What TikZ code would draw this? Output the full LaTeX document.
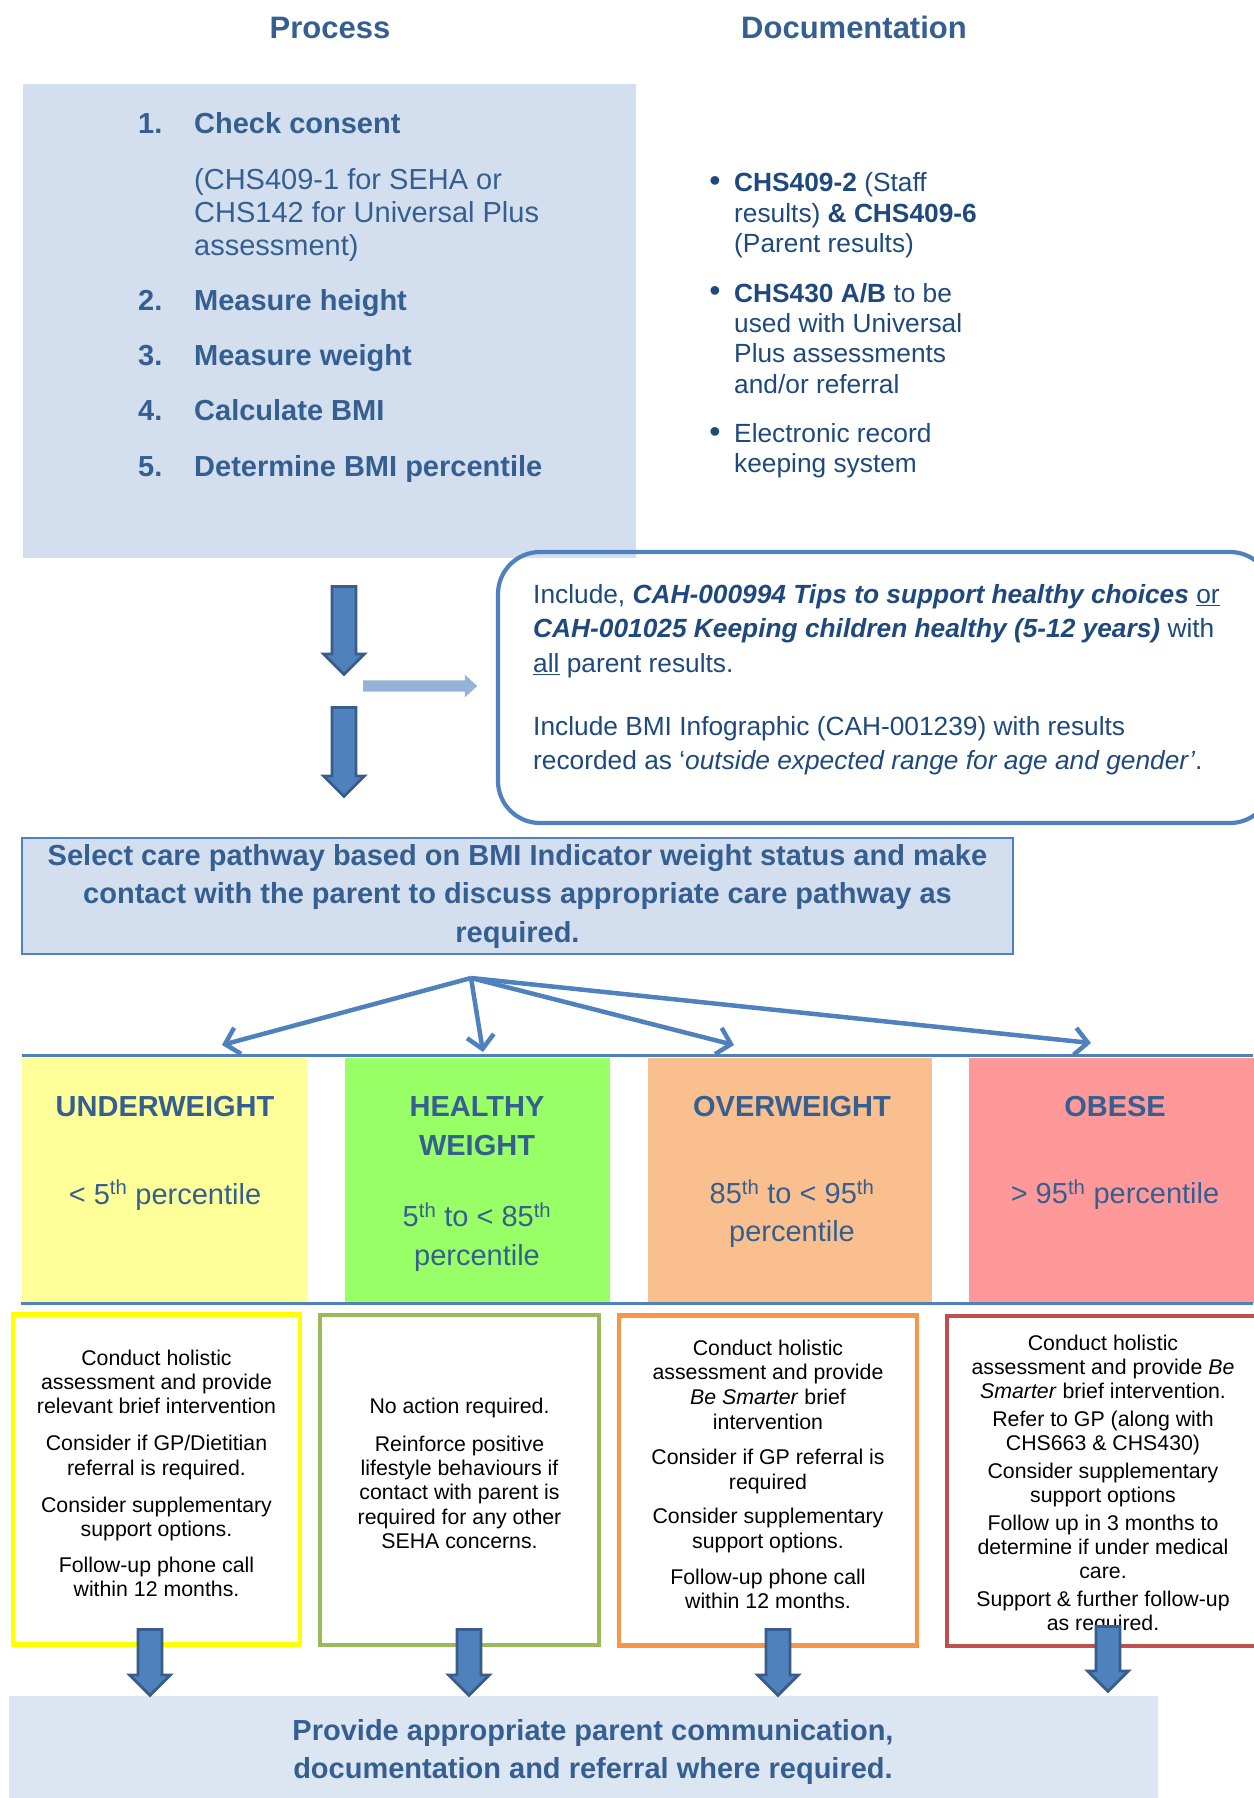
\documentclass[tikz,border=0pt]{standalone}
\usepackage{fontspec}
\setmainfont{Liberation Sans}
\usetikzlibrary{arrows.meta,positioning,shapes.arrows}
\definecolor{navy}{HTML}{365F91}
\definecolor{docnavy}{HTML}{1F497D}
\definecolor{paleblue}{HTML}{D3DFEE}
\definecolor{palerblue}{HTML}{DCE6F2}
\definecolor{accent}{HTML}{4F81BD}
\definecolor{accentdark}{HTML}{385D8A}
\definecolor{lightaccent}{HTML}{95B3D7}
\definecolor{underFill}{HTML}{FFFF99}
\definecolor{healthyFill}{HTML}{99FF66}
\definecolor{overFill}{HTML}{FABF8F}
\definecolor{obeseFill}{HTML}{FF9999}
\definecolor{underLine}{HTML}{FFFF00}
\definecolor{healthyLine}{HTML}{9BBB59}
\definecolor{overLine}{HTML}{F79646}
\definecolor{obeseLine}{HTML}{C0504D}
\newcommand{\fsz}[2]{\fontsize{#1}{#2}\selectfont}

\begin{document}
\begin{tikzpicture}[
  x=1pt, y=-1pt,
  heading/.style={anchor=base, font=\fsz{31}{36}\bfseries, text=navy, inner sep=0},
  stepitem/.style={anchor=base west, font=\fsz{29}{33}\bfseries, text=navy, inner sep=0},
  stepnote/.style={anchor=north west, align=left, font=\fsz{29}{33}, text=navy, inner sep=0},
  doctext/.style={anchor=north west, align=left, font=\fsz{26.3}{30.4}, text=docnavy, inner sep=0},
  bulletmark/.style={anchor=base, font=\fsz{32}{30.4}, text=docnavy, inner sep=0},
  panel/.style={minimum height=245, inner sep=0},
  cattitle/.style={anchor=base, font=\fsz{29}{38.5}\bfseries, text=navy, inner sep=0},
  catrange/.style={anchor=base, font=\fsz{29}{38.5}, text=navy, inner sep=0},
  actionbox/.style={draw, line width=4.5, minimum height=330, inner sep=0},
  actiontext/.style={anchor=north, align=center, font=\fsz{21.3}{24.2}, inner sep=0},
  blockarrow/.style={single arrow, draw=accentdark, fill=accent, line width=2.8, inner sep=8.5, minimum width=41, rotate=-90, anchor=tail},
  fanarrow/.style={-{Straight Barb[length=13pt, width=27pt]}, accent, line width=4.5},
  catline/.style={accent, line width=3}
]
  \useasboundingbox (0,0) rectangle (1253,1798);
  \fill[white] (0,0) rectangle (1253,1798);

  % headings
  \node[heading] (proctitle) at (330,39) {Process};
  \node[heading] (doctitle) at (854,39) {Documentation};

  % process steps
  \node[fill=paleblue, minimum width=613, minimum height=474, inner sep=0] (procbox) at (329.5,321) {};
  \node[stepitem] (n1) at (138,134) {1.};
  \node[stepitem] (s1) at (194,134) {Check consent};
  \node[stepnote] (s1note) at (194,167.8) {(CHS409-1 for SEHA or\\CHS142 for Universal Plus\\assessment)};
  \foreach \n/\txt/\y in {2/Measure height/310, 3/Measure weight/365.5, 4/Calculate BMI/420.5, 5/Determine BMI percentile/476}{
    \node[stepitem] (n\n) at (138,\y) {\n.};
    \node[stepitem] (s\n) at (194,\y) {\txt};
  }

  % documentation
  \node[bulletmark] (b1) at (715,191.5) {\textbullet};
  \node[doctext] (doc1) at (734,172.6) {\textbf{CHS409-2} (Staff\\results) \textbf{\& CHS409-6}\\(Parent results)};
  \node[bulletmark] (b2) at (715,301.8) {\textbullet};
  \node[doctext] (doc2) at (734,282.9) {\textbf{CHS430 A/B} to be\\used with Universal\\Plus assessments\\and/or referral};
  \node[bulletmark] (b3) at (715,442) {\textbullet};
  \node[doctext] (doc3) at (734,423.1) {Electronic record\\keeping system};

  % leaflets box
  \node[draw=accent, line width=4.2, rounded corners=42, minimum width=774, minimum height=271] (includebox) at (885,687.5) {};
  \node[doctext, font=\fsz{26.3}{34.5}] (includetext) at (533,583.8) {Include, \textbf{\textit{CAH-000994 Tips to support healthy choices}} \underline{or}\\
    \textbf{\textit{CAH-001025 Keeping children healthy (5-12 years)}} with\\
    \underline{all} parent results.\\[28.8pt]
    Include BMI Infographic (CAH-001239) with results\\
    recorded as `\textit{outside expected range for age and gender'}.};

  \node[blockarrow, minimum height=88] (down1) at (344,585) {};
  \node[blockarrow, minimum height=89] (down2) at (344,706) {};
  \node[single arrow, fill=lightaccent, inner sep=5.5, minimum width=22, single arrow head extend=5.5, single arrow tip angle=85, minimum height=114, anchor=tail] (side) at (363,686) {};

  % care pathway
  \node[draw=accent, line width=2.5, fill=paleblue, minimum width=991, minimum height=116, align=center, font=\fsz{29}{38.5}\bfseries, text=navy] (select) at (517.5,896) {Select care pathway based on BMI Indicator weight status and make\\contact with the parent to discuss appropriate care pathway as\\required.};

  \coordinate (fan) at (471,978);
  \coordinate (toUnder) at (222,1045);
  \coordinate (toHealthy) at (483,1052);
  \coordinate (toOver) at (734,1045);
  \coordinate (toObese) at (1091,1043);
  \draw[fanarrow] (fan) -- (toUnder);
  \draw[fanarrow] (fan) -- (toHealthy);
  \draw[fanarrow] (fan) -- (toOver);
  \draw[fanarrow] (fan) -- (toObese);

  % weight status
  \node[panel, fill=underFill, minimum width=285] (under) at (164.5,1180) {};
  \node[panel, fill=healthyFill, minimum width=265] (healthy) at (477.5,1180) {};
  \node[panel, fill=overFill, minimum width=284] (over) at (790,1180) {};
  \node[panel, fill=obeseFill, minimum width=292] (obese) at (1115,1180) {};
  \draw[catline] (22,1055.5) -- (1253,1055.5);
  \draw[catline] (21,1303.5) -- (1253,1303.5);

  \node[cattitle] (underT) at (165,1116.7) {UNDERWEIGHT};
  \node[catrange] (underR) at (165,1204) {< 5\textsuperscript{th} percentile};
  \node[cattitle] (healthyT) at (477,1116.7) {HEALTHY};
  \node[cattitle] (healthyT2) at (477,1155.2) {WEIGHT};
  \node[catrange] (healthyR) at (477,1226.7) {5\textsuperscript{th} to < 85\textsuperscript{th}};
  \node[catrange] (healthyR2) at (477,1265) {percentile};
  \node[cattitle] (overT) at (792,1116.7) {OVERWEIGHT};
  \node[catrange] (overR) at (792,1203.5) {85\textsuperscript{th} to < 95\textsuperscript{th}};
  \node[catrange] (overR2) at (792,1241.7) {percentile};
  \node[cattitle] (obeseT) at (1115,1116.7) {OBESE};
  \node[catrange] (obeseR) at (1115,1203.5) {> 95\textsuperscript{th} percentile};

  % actions
  \node[actionbox, draw=underLine, minimum width=287] (underAct) at (156.5,1479.5) {};
  \node[actionbox, draw=healthyLine, minimum width=279] (healthyAct) at (459.5,1480) {};
  \node[actionbox, draw=overLine, minimum width=298] (overAct) at (768,1480.5) {};
  \node[actionbox, draw=obeseLine, minimum width=312] (obeseAct) at (1103,1481) {};

  \node[actiontext] (underTxt) at (156.5,1349.7) {Conduct holistic\\assessment and provide\\relevant brief intervention\\[13pt]
    Consider if GP/Dietitian\\referral is required.\\[13pt]
    Consider supplementary\\support options.\\[12pt]
    Follow-up phone call\\within 12 months.};
  \node[actiontext] (healthyTxt) at (459.5,1397.7) {No action required.\\[14pt]
    Reinforce positive\\lifestyle behaviours if\\contact with parent is\\required for any other\\SEHA concerns.};
  \node[actiontext, font=\fsz{21.3}{24.6}] (overTxt) at (768,1339.7) {Conduct holistic\\assessment and provide\\\textit{Be Smarter} brief\\intervention\\[11pt]
    Consider if GP referral is\\required\\[10pt]
    Consider supplementary\\support options.\\[11pt]
    Follow-up phone call\\within 12 months.};
  \node[actiontext, font=\fsz{21.3}{24}] (obeseTxt) at (1103,1334.7) {Conduct holistic\\assessment and provide \textit{Be}\\\textit{Smarter} brief intervention.\\[4pt]
    Refer to GP (along with\\CHS663 \& CHS430)\\[4pt]
    Consider supplementary\\support options\\[4pt]
    Follow up in 3 months to\\determine if under medical\\care.\\[4pt]
    Support \& further follow-up\\as required.};

  % final step
  \node[fill=palerblue, minimum width=1149, minimum height=104, inner sep=0] (final) at (583.5,1748) {};
  \node[anchor=north, align=center, font=\fsz{29}{38}\bfseries, text=navy, inner sep=0] (finalTxt) at (593,1719.6) {Provide appropriate parent communication,\\documentation and referral where required.};

  \node[blockarrow, minimum height=66] (down3) at (150,1628) {};
  \node[blockarrow, minimum height=66] (down4) at (469,1628) {};
  \node[blockarrow, minimum height=66] (down5) at (778,1628) {};
  \node[blockarrow, minimum height=65] (down6) at (1108,1625) {};
\end{tikzpicture}
\end{document}
